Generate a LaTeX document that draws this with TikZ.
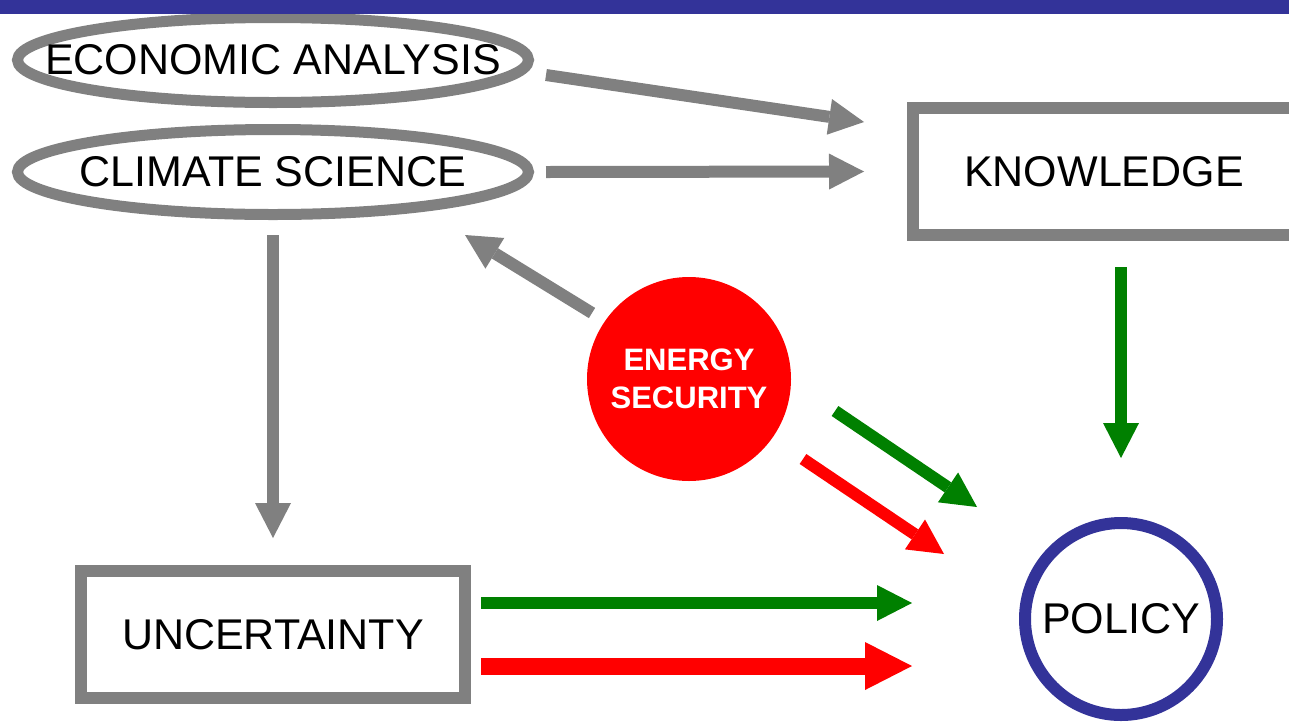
\documentclass[tikz,border=0pt]{standalone}
\usepackage{fontspec}
\setmainfont{Liberation Sans}
\usetikzlibrary{shapes.geometric,arrows.meta,calc}
\definecolor{myGray}{RGB}{128,128,128}
\definecolor{myGreen}{RGB}{0,128,0}
\definecolor{myRed}{RGB}{255,0,0}
\definecolor{myBlue}{RGB}{51,51,153}
\begin{document}
\begin{tikzpicture}[x=1pt,y=-1pt,
  lbl/.style={font=\fontsize{43}{50}\selectfont},
  ell/.style={ellipse,draw=myGray,line width=11pt,minimum width=511pt,minimum height=85pt,inner sep=0pt,lbl},
  box/.style={rectangle,draw=myGray,line width=12pt,inner sep=0pt,minimum height=127pt,lbl},
  arr/.style={line width=12pt,-{Triangle[length=35pt,width=36pt,line width=0pt]}},
  bigarr/.style={line width=17pt,-{Triangle[length=47pt,width=48pt,line width=0pt]}},
]
\useasboundingbox (0,0) rectangle (1289,721);
\fill[white] (0,0) rectangle (1289,721);

\node[ell] (econ) at (273,60) {\makebox[0pt]{ECONOMIC ANALYSIS}};
\node[ell] (clim) at (273,172) {\makebox[0pt]{CLIMATE SCIENCE}};
\node[box,minimum width=382pt] (know) at (1104,171.5) {KNOWLEDGE};
\node[box,minimum width=384pt] (unc) at (273,634.5) {UNCERTAINTY};
\node[circle,fill=myRed,minimum size=204pt,inner sep=0pt,text=white,
      font=\fontsize{31}{38}\selectfont\bfseries,align=center] (energy) at (689,379) {ENERGY\\SECURITY};
\node[circle,draw=myBlue,line width=12pt,fill=white,minimum size=192pt,inner sep=0pt,lbl] (policy) at (1121,619) {POLICY};

\fill[myBlue] (0,0) rectangle (1289,14);

\draw[arr,myGray] ($(econ.east)+(12,15)$) -- ($(know.west)+(-43,-49.5)$);
\draw[arr,myGray] ($(clim.east)+(12,0)$) -- ($(know.west)+(-43,0)$);
\draw[arr,myGray] ($(clim.south)+(0,15)$) -- ($(unc.north)+(0,-27)$);
\draw[arr,myGray] ($(energy)+(-97,-66)$) -- ($(clim.east)+(-69,63)$);
\draw[arr,myGreen] ($(know.south)+(17,26)$) -- ($(policy.north)+(0,-59)$);
\draw[arr,myGreen] ($(energy)+(146,32)$) -- ($(policy)+(-144,-112)$);
\draw[arr,myRed] ($(energy)+(114,80)$) -- ($(policy)+(-177,-65)$);
\draw[arr,myGreen] ($(unc.east)+(10,-31.5)$) -- ($(policy.west)+(-107,-16)$);
\draw[bigarr,myRed] ($(unc.east)+(10,31.5)$) -- ($(policy.west)+(-107,47)$);
\end{tikzpicture}
\end{document}
